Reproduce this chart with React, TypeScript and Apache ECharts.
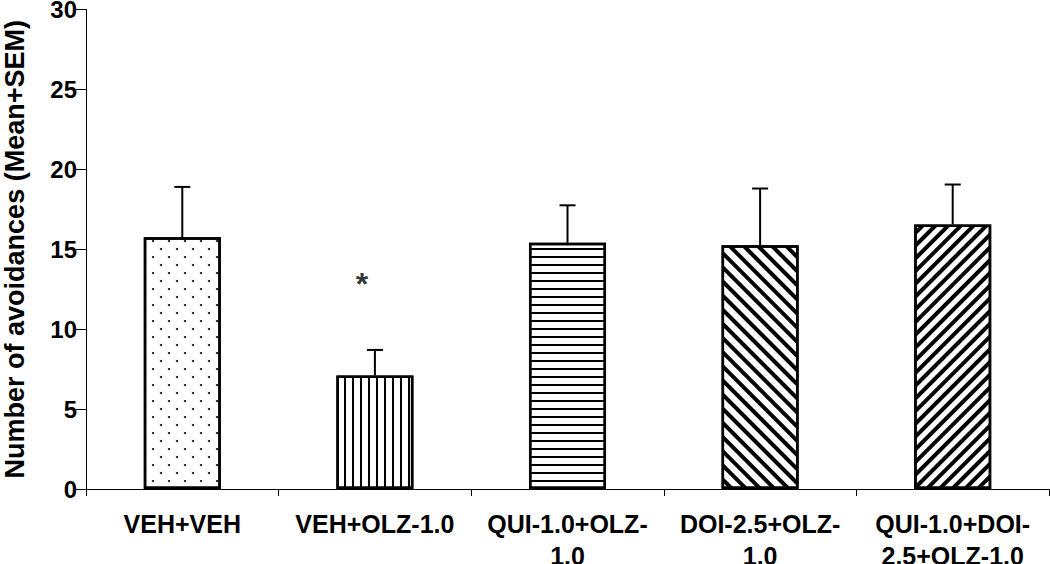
import React, { useEffect, useRef } from "react";
import * as echarts from "echarts";

const categories = [
  "VEH+VEH",
  "VEH+OLZ-1.0",
  "QUI-1.0+OLZ-\n1.0",
  "DOI-2.5+OLZ-\n1.0",
  "QUI-1.0+DOI-\n2.5+OLZ-1.0",
];
const means = [15.75, 7.1, 15.4, 15.25, 16.55];
const sems = [3.15, 1.6, 2.35, 3.55, 2.5];
const significance = ["", "*", "", "", ""];
const starLevels = [0, 13.2, 0, 0, 0];
const yMin = 0;
const yMax = 30;
const yStep = 5;

const FONT = "'Liberation Sans', Arial, Helvetica, sans-serif";

const decals: any[] = [
  {
    symbol: "circle",
    symbolSize: 1,
    color: "#000",
    dashArrayX: [
      [2, 14],
      [0, 8, 2, 6],
    ],
    dashArrayY: [2, 6],
    rotation: 0,
  },
  {
    symbol: "rect",
    symbolSize: 1,
    color: "#000",
    dashArrayX: [2, 6],
    dashArrayY: [10, 0],
    rotation: 0,
  },
  {
    symbol: "rect",
    symbolSize: 1,
    color: "#000",
    dashArrayX: [10, 0],
    dashArrayY: [2, 6],
    rotation: 0,
  },
  {
    symbol: "rect",
    symbolSize: 1,
    color: "#000",
    dashArrayX: [3.5, 6],
    dashArrayY: [10, 0],
    rotation: -Math.PI / 4,
  },
  {
    symbol: "rect",
    symbolSize: 1,
    color: "#000",
    dashArrayX: [3.5, 5],
    dashArrayY: [10, 0],
    rotation: Math.PI / 4,
  },
];

export default function App() {
  const ref = useRef<HTMLDivElement>(null);

  useEffect(() => {
    if (!ref.current) return;
    const chart = echarts.init(ref.current, null, { renderer: "svg" });
    const option: any = {
      animation: false,
      backgroundColor: "#fff",
      textStyle: { fontFamily: FONT },
      grid: {
        left: 86,
        right: 1,
        top: 9.5,
        bottom: 75,
        containLabel: false,
        outerBoundsMode: "none",
      },
      xAxis: {
        type: "category",
        data: categories,
        axisLine: { show: true, lineStyle: { color: "#000", width: 1 } },
        axisTick: { show: true, length: 7, lineStyle: { color: "#000", width: 1 } },
        axisLabel: {
          color: "#000",
          fontSize: 25,
          fontWeight: "bold",
          fontFamily: FONT,
          margin: 19,
          lineHeight: 32,
          interval: 0,
        },
        splitLine: { show: false },
      },
      yAxis: {
        type: "value",
        min: yMin,
        max: yMax,
        interval: yStep,
        name: "Number of avoidances (Mean+SEM)",
        nameLocation: "middle",
        nameGap: 58,
        nameTextStyle: {
          color: "#000",
          fontSize: 27,
          fontWeight: "bold",
          fontFamily: FONT,
        },
        axisLine: { show: true, lineStyle: { color: "#000", width: 1 } },
        axisTick: { show: true, length: 10, lineStyle: { color: "#000", width: 1 } },
        axisLabel: {
          color: "#000",
          fontSize: 24,
          fontWeight: "bold",
          fontFamily: FONT,
          margin: 9,
        },
        splitLine: { show: false },
      },
      series: [
        {
          type: "bar",
          barWidth: "40%",
          data: means.map((v, i) => ({
            value: v,
            itemStyle: {
              color: "#fff",
              borderColor: "#000",
              borderWidth: 2.5,
              decal: decals[i],
            },
          })),
          z: 2,
        },
        {
          type: "custom",
          z: 3,
          data: means.map((m, i) => [i, m, m + sems[i]]),
          encode: { x: 0, y: [1, 2] },
          renderItem: (params: any, api: any) => {
            const x = api.value(0);
            const p0 = api.coord([x, api.value(1)]);
            const p1 = api.coord([x, api.value(2)]);
            const style = { stroke: "#000", lineWidth: 2 };
            return {
              type: "group",
              children: [
                { type: "line", shape: { x1: p0[0], y1: p0[1], x2: p1[0], y2: p1[1] }, style },
                { type: "line", shape: { x1: p1[0] - 8, y1: p1[1], x2: p1[0] + 8, y2: p1[1] }, style },
              ],
            };
          },
        },
        {
          type: "scatter",
          z: 4,
          symbolSize: 0,
          data: significance
            .map((s, i) => (s ? { value: [i, starLevels[i]], name: s } : null))
            .filter((d) => d !== null),
          label: {
            show: true,
            position: "inside",
            formatter: (p: any) => p.name,
            color: "#000",
            fontSize: 32,
            fontWeight: "bold",
            fontFamily: FONT,
            offset: [-13, 6],
          },
        },
      ],
    };
    chart.setOption(option);
    return () => chart.dispose();
  }, []);

  return (
    <div
      ref={ref}
      style={{ position: "fixed", left: 0, top: 0, width: 1050, height: 564 }}
    />
  );
}
